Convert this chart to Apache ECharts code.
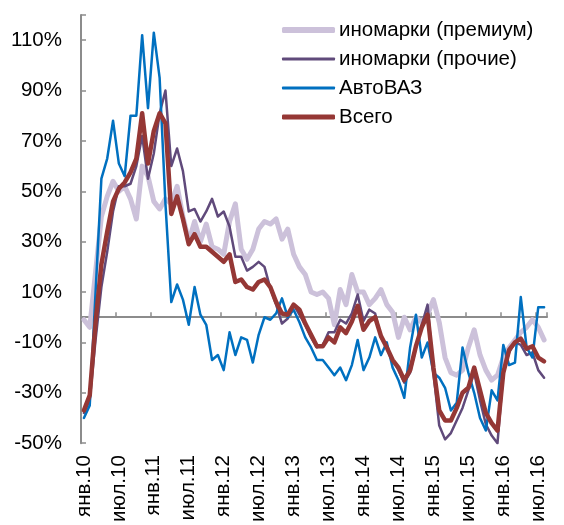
<!DOCTYPE html>
<html>
<head>
<meta charset="utf-8">
<script src="https://cdn.jsdelivr.net/npm/echarts@6/dist/echarts.min.js"></script>
<style>
html,body{margin:0;padding:0;background:#fff;}
#chart{width:564px;height:525px;}
</style>
</head>
<body>
<div id="chart"></div>
<script>
// Categories: months Jan 2010 .. Aug 2016
const monthNames = ['янв','фев','мар','апр','май','июн','июл','авг','сен','окт','ноя','дек'];
const years = ['10','11','12','13','14','15','16'];
const categories = [];
years.forEach(function (y) {
  monthNames.forEach(function (m, k) {
    if (y === '16' && k > 7) return;
    categories.push(m + '.' + y);
  });
});

const seriesNames = ['иномарки (премиум)', 'иномарки (прочие)', 'АвтоВАЗ', 'Всего'];

const premium = [-1,-4,18,40,48,54,50,52,47,39,
  60,56,46,43,47,45,52,40,30,38,
  30,37,28,27,25,38,45,27,23,27,
  35,38,37,39,31,35,25,20,17,10,
  9,10,7.5,-3,11,5,17,10,10,5,
  7.5,11,5,2,-8,0,-5,0,-2,1,
  7,-2,-16,-22,-23,-21,-12,-5,-15,-21,
  -25,-23,-16,-12,-9,-6,-4,-1,-4,-9];

const other = [-38,-33,-9,12,26,42,52,52,53,60,
  72,55,65,81,90,60,67,58,42,43,
  38,42,47,40,42,36,24,24,18.5,20,
  22,20,11.5,5,-2.5,-0.5,5,1,-3,-8,
  -12,-11,-6,-6,-1,-2.5,1.5,9,-1.5,3,
  1.5,-8,-12,-17,-21,-26,-22,-12,-3,5,
  -22,-43,-48.5,-46,-41,-36,-29,-22,-33,-42.5,
  -47,-50,-22,-14,-10,-11,-15,-14,-21,-24];

const avtovaz = [-40,-35,10,55,63,78,61,56,80,80,
  112,83,113,95,45,6,13,7,-3,12,
  1,-3,-17,-15,-21,-6,-15,-8,-9,-18,
  -7,0,-1,1.5,7.5,0,3,-2,-8,-12,
  -17,-17,-20,-23,-20,-25,-19,-9,-21,-16,
  -8,-15,-10,-20,-25,-32,-12,1,-16,-10,
  -22,-24,-28,-37,-34,-12,-22,-30,-40,-45,
  -29,-33,-11,-19,-18,8,-12,-16,4,4];

const total = [-37,-31,-2,21,34,46,51,53.5,57.5,63,
  81,61,74,81,77,41,48,39,29,33,
  28,28,26,24,22,25,14,15,12,11,
  14,15,12,6,1.5,1,5,3,-2.5,-7,
  -11.5,-11.5,-8,-10,-4,-6.3,-1.7,4.5,-5,-1.5,
  0,-7.5,-12,-17,-20,-25,-21,-11.5,-4,1,
  -20,-37,-41,-41,-36,-30,-28,-20,-29,-38,
  -42,-45,-22,-13,-10,-8.5,-12.5,-11.5,-16,-17.5];

const yMin = -50, yMax = 120, yStep = 20;

const colors = ['#CCC1DA', '#604A7B', '#0070C0', '#953735'];
const widths = [5, 2.5, 2.5, 4.5];
const legendThick = [6, 3, 3, 5];
const legendCenters = [30, 59, 88, 117];
const dataSets = [premium, other, avtovaz, total];

const FONT = '"Liberation Sans", Arial, sans-serif';
const FS = 20.5;
const axisGray = '#8C8C8C';

const chart = echarts.init(document.getElementById('chart'), null, {renderer: 'canvas'});

const legends = seriesNames.map(function (name, k) {
  return {
    orient: 'vertical',
    left: 282,
    top: legendCenters[k] - 11,
    padding: 0,
    itemWidth: 53,
    itemHeight: legendThick[k],
    itemGap: 0,
    icon: 'roundRect',
    selectedMode: false,
    textStyle: {fontFamily: FONT, fontSize: FS, color: '#000', lineHeight: 22, padding: [0, 0, 0, -1]},
    data: [name]
  };
});

const option = {
  animation: false,
  backgroundColor: '#ffffff',
  grid: {left: 81, right: 17, top: 15, bottom: 79, containLabel: false},
  legend: legends,
  xAxis: [{
    type: 'category',
    data: categories,
    boundaryGap: true,
    position: 'bottom',
    axisLine: {show: false, onZero: false},
    axisTick: {show: false},
    axisLabel: {
      interval: 5,
      rotate: 90,
      margin: 12,
      fontFamily: FONT,
      fontSize: FS,
      color: '#000'
    },
    splitLine: {show: false}
  }, {
    type: 'category',
    data: categories,
    boundaryGap: true,
    axisLine: {show: true, onZero: true, lineStyle: {color: axisGray, width: 2}},
    axisTick: {show: true, interval: 5, length: 5, lineStyle: {color: axisGray, width: 1.5}},
    axisLabel: {show: false},
    splitLine: {show: false}
  }],
  yAxis: {
    type: 'value',
    min: yMin,
    max: yMax,
    interval: yStep,
    axisLine: {show: true, lineStyle: {color: axisGray, width: 2}},
    axisTick: {show: true, inside: true, length: 5, lineStyle: {color: axisGray, width: 1.5}},
    axisLabel: {
      margin: 19,
      fontFamily: FONT,
      fontSize: FS,
      color: '#000',
      formatter: function (v) { return v >= yMax ? '' : v + '%'; }
    },
    splitLine: {show: false}
  },
  series: seriesNames.map(function (name, k) {
    return {
      name: name,
      type: 'line',
      xAxisIndex: 0,
      data: dataSets[k],
      symbol: 'none',
      showSymbol: false,
      smooth: false,
      z: 2 + k,
      lineStyle: {color: colors[k], width: widths[k], cap: 'round', join: 'round'},
      itemStyle: {color: colors[k]}
    };
  })
};

chart.setOption(option);
</script>
</body>
</html>
